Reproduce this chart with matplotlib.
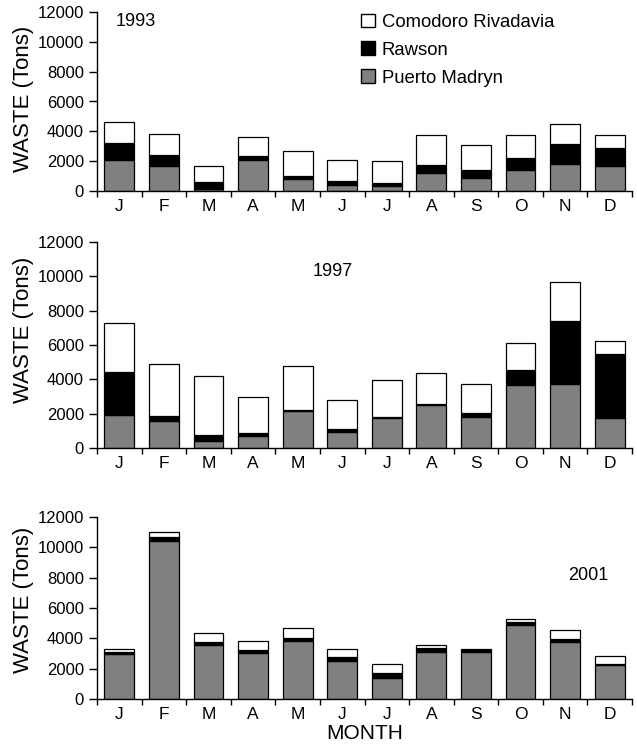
import matplotlib
matplotlib.use("Agg")
import matplotlib.pyplot as plt
from matplotlib.patches import Patch

plt.rcParams['font.family'] = ['Liberation Sans', 'DejaVu Sans']

months = ["J", "F", "M", "A", "M", "J", "J", "A", "S", "O", "N", "D"]
series_names = ["Comodoro Rivadavia", "Rawson", "Puerto Madryn"]

# Values per city (tons)
madryn_1993 = [2050, 1700, 150, 2050, 800, 400, 320, 1230, 850, 1410, 1790, 1700]
rawson_1993 = [1200, 700, 430, 300, 230, 250, 240, 530, 540, 830, 1360, 1160]
comodoro_1993 = [1350, 1450, 1070, 1300, 1620, 1450, 1440, 2020, 1710, 1540, 1340, 890]

madryn_1997 = [1950, 1560, 390, 720, 2140, 950, 1730, 2500, 1830, 3670, 3750, 1730]
rawson_1997 = [2450, 310, 390, 150, 60, 140, 60, 60, 210, 860, 3650, 3730]
comodoro_1997 = [2900, 3030, 3420, 2080, 2550, 1690, 2160, 1790, 1690, 1610, 2250, 780]

madryn_2001 = [2960, 10430, 3550, 3040, 3820, 2520, 1410, 3130, 3110, 4900, 3750, 2270]
rawson_2001 = [130, 220, 180, 160, 200, 240, 290, 200, 110, 180, 200, 50]
comodoro_2001 = [180, 350, 620, 620, 640, 510, 600, 220, 50, 180, 570, 530]

years = ["1993", "1997", "2001"]
data = [
    (madryn_1993, rawson_1993, comodoro_1993),
    (madryn_1997, rawson_1997, comodoro_1997),
    (madryn_2001, rawson_2001, comodoro_2001),
]

W, H = 637, 750
fig = plt.figure(figsize=(W / 100, H / 100), dpi=100)

# axes rectangles in pixels: (top, bottom)
rects = [(12, 191), (242, 448), (517, 699)]
left_px, right_px = 97, 632
year_px = [(136, 21), (333, 272), (588, 576)]
ylabel_y = [0.517, 0.573, 0.544]

colors = ["#808080", "#000000", "#ffffff"]
fs = 12

for k, (ax_rect, yr, vals) in enumerate(zip(rects, years, data)):
    top, bot = ax_rect
    ax = fig.add_axes([left_px / W, 1 - bot / H, (right_px - left_px) / W, (bot - top) / H])
    x = list(range(12))
    bottom = [0] * 12
    for v, c in zip(vals, colors):
        ax.bar(x, v, bottom=bottom, width=0.67, color=c, edgecolor="black", linewidth=0.9)
        bottom = [b + vv for b, vv in zip(bottom, v)]
    ax.set_xlim(-0.5, 11.5)
    ax.set_ylim(0, 12000)
    ax.set_yticks(range(0, 12001, 2000))
    ax.set_xticks([i - 0.5 for i in range(13)])
    ax.set_xticklabels([])
    ax.set_xticks(x, minor=True)
    ax.set_xticklabels(months, minor=True)
    ax.tick_params(axis='x', which='minor', length=0, pad=6, labelsize=12.5)
    ax.tick_params(axis='x', which='major', length=4, width=1, direction='out')
    ax.tick_params(axis='y', length=6, width=1, direction='out', labelsize=fs, pad=3.5)
    for s in ['top', 'right']:
        ax.spines[s].set_visible(False)
    ax.spines['left'].set_linewidth(1)
    ax.spines['bottom'].set_linewidth(1)
    ax.set_ylabel("WASTE (Tons)", fontsize=16, va='center')
    ax.yaxis.set_label_coords(-0.137, ylabel_y[k])
    fig.text(year_px[k][0] / W, 1 - year_px[k][1] / H, yr, fontsize=13,
             ha='center', va='center')
    if k == 2:
        ax.set_xlabel("MONTH", fontsize=15, labelpad=1)

handles = [Patch(facecolor="#ffffff", edgecolor="black"),
           Patch(facecolor="#000000", edgecolor="black"),
           Patch(facecolor="#808080", edgecolor="black")]
fig.legend(handles, series_names, loc='upper left', bbox_to_anchor=(361 / W, 1 - 13.5 / H),
           frameon=False, fontsize=13.3, handlelength=0.75, handleheight=0.75,
           handletextpad=0.38, labelspacing=0.58, borderpad=0, borderaxespad=0)

fig.savefig("out.png", dpi=100)
